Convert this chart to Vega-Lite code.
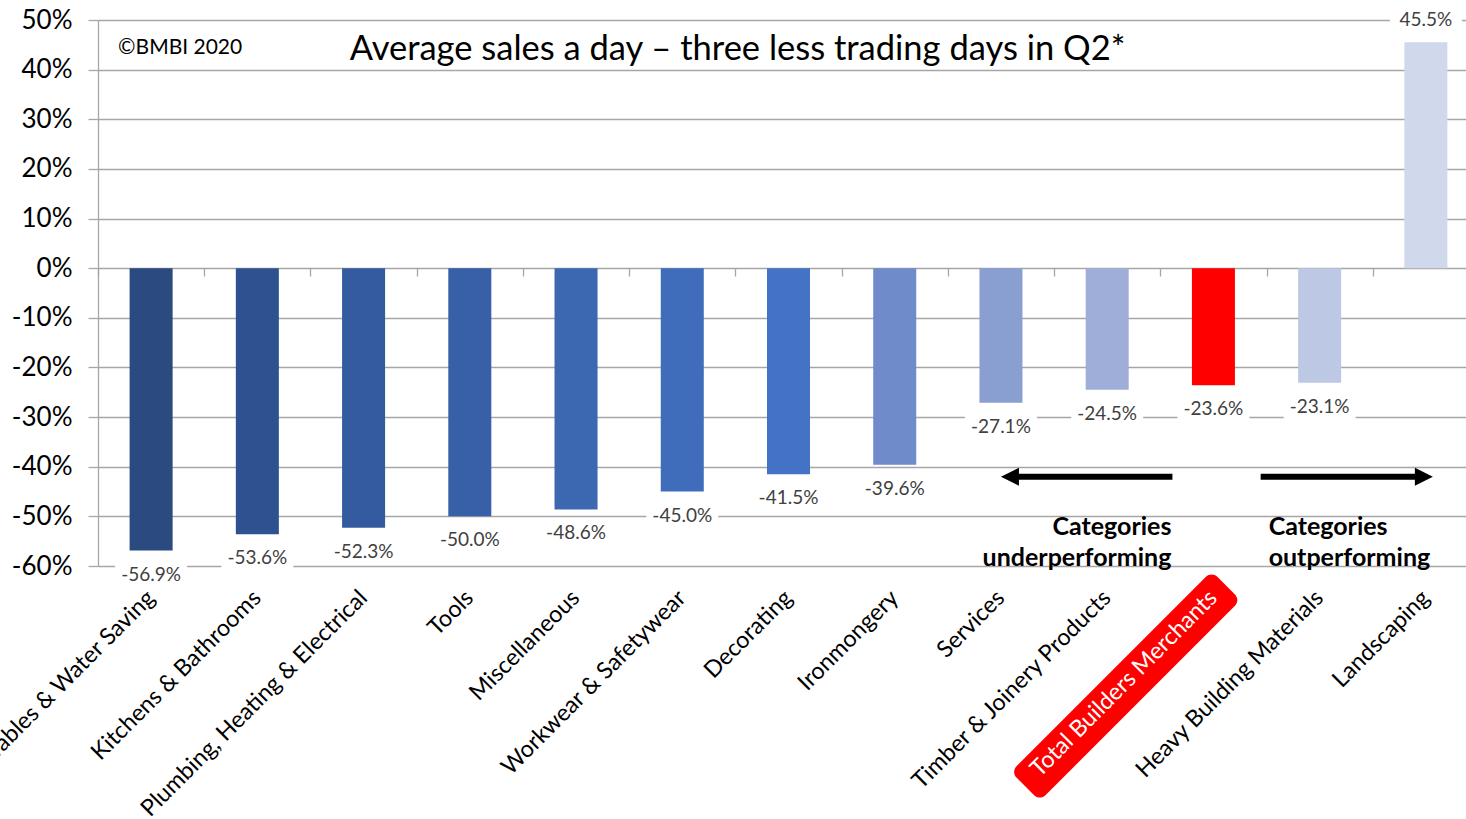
{
  "$schema": "https://vega.github.io/schema/vega-lite/v6.json",
  "width": 1381,
  "height": 546,
  "autosize": {"type": "none"},
  "padding": {"left": 98, "top": 20, "right": 0, "bottom": 253},
  "background": "white",
  "config": {"view": {"stroke": null}, "font": "Lato"},
  "datasets": {
    "sales": [
      {"cat": "Renewables & Water Saving", "value": -56.9},
      {"cat": "Kitchens & Bathrooms", "value": -53.6},
      {"cat": "Plumbing, Heating & Electrical", "value": -52.3},
      {"cat": "Tools", "value": -50.0},
      {"cat": "Miscellaneous", "value": -48.6},
      {"cat": "Workwear & Safetywear", "value": -45.0},
      {"cat": "Decorating", "value": -41.5},
      {"cat": "Ironmongery", "value": -39.6},
      {"cat": "Services", "value": -27.1},
      {"cat": "Timber & Joinery Products", "value": -24.5},
      {"cat": "Total Builders Merchants", "value": -23.6},
      {"cat": "Heavy Building Materials", "value": -23.1},
      {"cat": "Landscaping", "value": 45.5}
    ],
    "one": [{}]
  },
  "data": {"name": "sales"},
  "resolve": {"axis": {"x": "independent"}},
  "layer": [
    {
      "mark": {"type": "bar", "width": {"band": 0.405}},
      "encoding": {
        "x": {
          "field": "cat", "type": "nominal", "sort": null,
          "scale": {
            "domain": ["Renewables & Water Saving", "Kitchens & Bathrooms", "Plumbing, Heating & Electrical", "Tools", "Miscellaneous", "Workwear & Safetywear", "Decorating", "Ironmongery", "Services", "Timber & Joinery Products", "Total Builders Merchants", "Heavy Building Materials", "Landscaping"],
            "paddingInner": 0, "paddingOuter": 0
          },
          "axis": {
            "orient": "bottom", "title": null, "domain": false, "ticks": false, "tickSize": 0,
            "grid": false, "labelAngle": -45, "labelAlign": "right", "labelBaseline": "middle",
            "labelPadding": 28, "labelFont": "Lato", "labelFontSize": 23.3, "labelLimit": 600,
            "labelOverlap": false, "labelBound": false, "labelFlush": false, "zindex": 1,
            "labelColor": {"condition": {"test": "datum.value === 'Total Builders Merchants'", "value": "white"}, "value": "black"}
          }
        },
        "y": {
          "field": "value", "type": "quantitative",
          "scale": {"domain": [-60, 50], "nice": false, "zero": false},
          "axis": {
            "orient": "left", "title": null, "values": [-60, -50, -40, -30, -20, -10, 0, 10, 20, 30, 40, 50],
            "labelExpr": "datum.value + '%'", "labelFont": "Lato", "labelFontSize": 26, "labelColor": "black",
            "labelPadding": 16, "tickSize": 10, "tickColor": "#a6a6a6", "tickWidth": 1.3,
            "domainColor": "#a6a6a6", "domainWidth": 1.3, "grid": true, "gridColor": "#a6a6a6", "gridWidth": 1.3
          }
        },
        "color": {
          "field": "cat", "type": "nominal", "legend": null,
          "scale": {
            "domain": ["Renewables & Water Saving", "Kitchens & Bathrooms", "Plumbing, Heating & Electrical", "Tools", "Miscellaneous", "Workwear & Safetywear", "Decorating", "Ironmongery", "Services", "Timber & Joinery Products", "Total Builders Merchants", "Heavy Building Materials", "Landscaping"],
            "range": ["#2b4a80", "#2e5290", "#345a9f", "#3860a8", "#3c68b2", "#3f6dbb", "#4472c4", "#6f8bca", "#8a9fd1", "#9eaed9", "#ff0000", "#bdc8e5", "#d0d8ec"]
          }
        }
      }
    },
    {
      "transform": [
        {"filter": "datum.value < 0"},
        {"calculate": "replace(format(datum.value, '.1f'), '\u2212', '-') + '%'", "as": "label"}
      ],
      "layer": [
        {
          "mark": {"type": "point", "shape": "M-36,-13H36V13H-36Z", "size": 4, "filled": true, "fill": "white", "opacity": 1, "strokeWidth": 0, "yOffset": 24},
          "encoding": {
            "x": {"field": "cat", "type": "nominal", "sort": null, "axis": null},
            "y": {"field": "value", "type": "quantitative"}
          }
        },
        {
          "mark": {"type": "text", "font": "Lato", "fontSize": 19, "fill": "#404040", "baseline": "middle", "align": "center", "yOffset": 24},
          "encoding": {
            "x": {"field": "cat", "type": "nominal", "sort": null, "axis": null},
            "y": {"field": "value", "type": "quantitative"},
            "text": {"field": "label"}
          }
        }
      ]
    },
    {
      "transform": [
        {"filter": "datum.value >= 0"},
        {"calculate": "replace(format(datum.value, '.1f'), '\u2212', '-') + '%'", "as": "label"}
      ],
      "layer": [
        {
          "mark": {"type": "point", "shape": "M-36,-13H36V13H-36Z", "size": 4, "filled": true, "fill": "white", "opacity": 1, "strokeWidth": 0, "yOffset": -22},
          "encoding": {
            "x": {"field": "cat", "type": "nominal", "sort": null, "axis": null},
            "y": {"field": "value", "type": "quantitative"}
          }
        },
        {
          "mark": {"type": "text", "font": "Lato", "fontSize": 19, "fill": "#404040", "baseline": "middle", "align": "center", "yOffset": -22},
          "encoding": {
            "x": {"field": "cat", "type": "nominal", "sort": null, "axis": null},
            "y": {"field": "value", "type": "quantitative"},
            "text": {"field": "label"}
          }
        }
      ]
    },
    {
      "data": {"name": "one"},
      "mark": {"type": "point", "shape": "M-134,-20.5H134A8,8,0,0,1,142,-12.5V12.5A8,8,0,0,1,134,20.5H-134A8,8,0,0,1,-142,12.5V-12.5A8,8,0,0,1,-134,-20.5Z", "size": 4, "angle": 315, "filled": true, "fill": "#ff0000", "opacity": 1, "strokeWidth": 0, "xOffset": -87.7, "yOffset": 120},
      "encoding": {
        "x": {"datum": "Total Builders Merchants", "type": "nominal", "axis": null},
        "y": {"datum": -60, "type": "quantitative"}
      }
    },
    {
      "data": {"name": "one"},
      "layer": [
        {
          "mark": {"type": "rule", "strokeWidth": 6, "color": "black", "xOffset": 14, "x2Offset": -41},
          "encoding": {
            "x": {"datum": "Services", "type": "nominal", "axis": null},
            "x2": {"datum": "Total Builders Merchants"},
            "y": {"datum": -42, "type": "quantitative"}
          }
        },
        {
          "mark": {"type": "point", "shape": "M0,0L18,-9L18,9Z", "size": 4, "filled": true, "fill": "black", "opacity": 1, "strokeWidth": 0},
          "encoding": {
            "x": {"datum": "Services", "type": "nominal", "axis": null},
            "y": {"datum": -42, "type": "quantitative"}
          }
        },
        {
          "mark": {"type": "rule", "strokeWidth": 6, "color": "black", "xOffset": -59, "x2Offset": -7},
          "encoding": {
            "x": {"datum": "Heavy Building Materials", "type": "nominal", "axis": null},
            "x2": {"datum": "Landscaping"},
            "y": {"datum": -42, "type": "quantitative"}
          }
        },
        {
          "mark": {"type": "point", "shape": "M0,0L-18,-9L-18,9Z", "size": 4, "filled": true, "fill": "black", "opacity": 1, "strokeWidth": 0, "xOffset": 7},
          "encoding": {
            "x": {"datum": "Landscaping", "type": "nominal", "axis": null},
            "y": {"datum": -42, "type": "quantitative"}
          }
        }
      ]
    },
    {
      "data": {"name": "one"},
      "mark": {"type": "text", "text": ["Categories", "underperforming"], "font": "Lato", "fontWeight": "bold", "fontSize": 25, "lineHeight": 31.5, "fill": "black", "align": "right", "baseline": "middle", "dx": -42},
      "encoding": {
        "x": {"datum": "Total Builders Merchants", "type": "nominal",
          "axis": {"orient": "bottom", "offset": -298, "title": null, "labels": false, "domain": false, "ticks": true, "tickSize": 8, "tickColor": "#a6a6a6", "tickWidth": 1.3, "tickBand": "extent", "grid": false}},
        "y": {"datum": -52.07, "type": "quantitative"}
      }
    },
    {
      "data": {"name": "one"},
      "mark": {"type": "text", "text": ["Categories", "outperforming"], "font": "Lato", "fontWeight": "bold", "fontSize": 25, "lineHeight": 31.5, "fill": "black", "align": "left", "baseline": "middle", "dx": -51},
      "encoding": {
        "x": {"datum": "Heavy Building Materials", "type": "nominal", "axis": null},
        "y": {"datum": -52.07, "type": "quantitative"}
      }
    },
    {
      "data": {"name": "one"},
      "mark": {"type": "text", "text": "Average sales a day \u2013 three less trading days in Q2*", "font": "Lato", "fontSize": 34.5, "fill": "black", "align": "center", "baseline": "alphabetic", "dx": -51},
      "encoding": {
        "x": {"datum": "Decorating", "type": "nominal", "axis": null},
        "y": {"datum": 41.9, "type": "quantitative"}
      }
    },
    {
      "data": {"name": "one"},
      "mark": {"type": "text", "text": "\u00a9BMBI 2020", "font": "Lato", "fontSize": 21, "fill": "black", "align": "left", "baseline": "alphabetic", "dx": -33},
      "encoding": {
        "x": {"datum": "Renewables & Water Saving", "type": "nominal", "axis": null},
        "y": {"datum": 43.1, "type": "quantitative"}
      }
    }
  ]
}
